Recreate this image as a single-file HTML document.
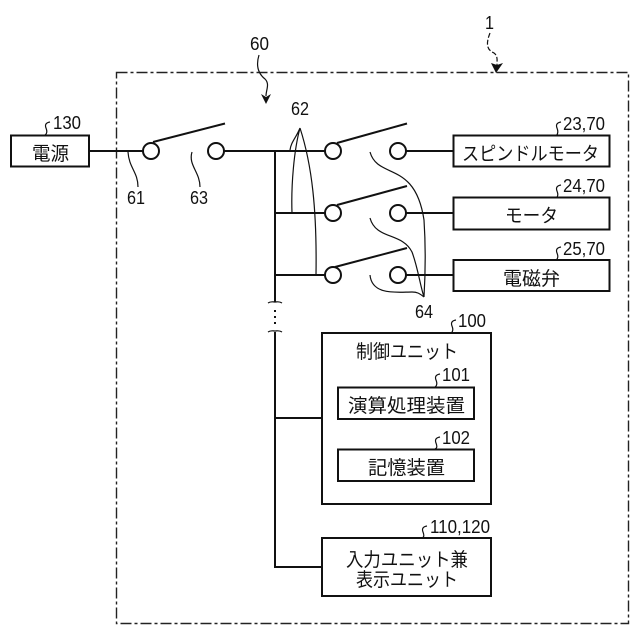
<!DOCTYPE html>
<html><head><meta charset="utf-8"><style>
html,body{margin:0;padding:0;background:#fff}
svg{display:block}
text{font-family:"Liberation Sans","Noto Sans CJK JP",sans-serif;fill:#111}
.n{font-size:18px}
.j{font-size:19px}
</style></head><body>
<svg width="640" height="640" viewBox="0 0 640 640" xmlns="http://www.w3.org/2000/svg">
<rect width="640" height="640" fill="#fff"/>
<rect x="116.5" y="72.5" width="512" height="551" fill="none" stroke="#222" stroke-width="1.4" stroke-dasharray="11 3 3 3"/>
<g fill="none" stroke="#111" stroke-width="2">
<rect x="11" y="135.500" width="78" height="31"/>
<rect x="453.500" y="135.500" width="156" height="31"/>
<rect x="453.500" y="197.500" width="156" height="32"/>
<rect x="453.500" y="260" width="156" height="31"/>
<rect x="322" y="333" width="169" height="171"/>
<rect x="338" y="387.500" width="136" height="31.500"/>
<rect x="338" y="449.500" width="136" height="31.500"/>
<rect x="322" y="538" width="169" height="58"/>
<path d="M89 151H143M224 151H325M275 151V302M275 332V567H322M275 418H322M275 213H325M275 275H325M406 151H453M406 213H453M406 275H453"/>
<circle cx="151" cy="151" r="8"/><circle cx="216" cy="151" r="8"/>
<circle cx="333" cy="151" r="8"/><circle cx="398" cy="151" r="8"/>
<circle cx="333" cy="213" r="8"/><circle cx="398" cy="213" r="8"/>
<circle cx="333" cy="275" r="8"/><circle cx="398" cy="275" r="8"/>
<path d="M153 142L225 123.500M337 143L407 123.500M337 205L407 186M335 267L407 248"/>
</g>
<g fill="none" stroke="#111" stroke-width="1.200">
<path d="M268 303c3 -2 5 -1 7 -1c2 0 4 -1 7 1M268 332c3 -2 5 -1 7 -1c2 0 4 -1 7 1"/>
<path d="M275 310v2M275 316v2M275 322v2" stroke-width="2"/>
<path d="M300 128C296 138 291 142 290 150M300 128C294 150 291 185 292 213M300 128C312 165 317 210 316 275"/>
<path d="M128 152C129 168 138 172 138 187M192 152C188 165 200 172 200 187"/>
<path d="M370 152C378 180 415 160 424 220C426 250 425 280 424 297M370 218C376 240 402 232 412 252C418 268 420 285 424 297M370 275C372 296 398 292 412 292C418 292 420 294 424 297"/>
<path d="M259 55C255 68 260 75 265 79C270 84 266 90 266 96"/>
<path d="M490 33C484 48 490 51 494 53C498 56 497 60 497 65" stroke-dasharray="5 2"/>
<path d="M50 122q-6 1 -4 6t-1 7M561 122q-6 1 -4 6t-1 8M561 185q-6 1 -4 6t-1 7M561 247q-6 1 -4 6t-1 7M456 320q-6 1 -4 6t-1 7M440 374q-6 1 -4 6t-1 7M440 437q-6 1 -4 6t-1 6M427 526q-6 1 -4 6t-1 6"/>
</g>
<path d="M261 94L266 97L271 94L266 104Z" fill="#111"/>
<path d="M491 63L497 65L503 63L496 73Z" fill="#111"/>
<g class="n">
<text x="53" y="129" textLength="28" lengthAdjust="spacingAndGlyphs">130</text>
<text x="250" y="50" textLength="19" lengthAdjust="spacingAndGlyphs">60</text>
<text x="485" y="29" textLength="9" lengthAdjust="spacingAndGlyphs">1</text>
<text x="291" y="115" textLength="18" lengthAdjust="spacingAndGlyphs">62</text>
<text x="127" y="204" textLength="18" lengthAdjust="spacingAndGlyphs">61</text>
<text x="190" y="204" textLength="18" lengthAdjust="spacingAndGlyphs">63</text>
<text x="415" y="318" textLength="18" lengthAdjust="spacingAndGlyphs">64</text>
<text x="563" y="130" textLength="42" lengthAdjust="spacingAndGlyphs">23,70</text>
<text x="563" y="192" textLength="42" lengthAdjust="spacingAndGlyphs">24,70</text>
<text x="563" y="255" textLength="42" lengthAdjust="spacingAndGlyphs">25,70</text>
<text x="458" y="327" textLength="28" lengthAdjust="spacingAndGlyphs">100</text>
<text x="442" y="381" textLength="28" lengthAdjust="spacingAndGlyphs">101</text>
<text x="442" y="444" textLength="28" lengthAdjust="spacingAndGlyphs">102</text>
<text x="430" y="533" textLength="60" lengthAdjust="spacingAndGlyphs">110,120</text>
</g>
<g class="j">
<text x="32" y="160" textLength="37" lengthAdjust="spacingAndGlyphs">電源</text>
<text x="462" y="160" textLength="137" lengthAdjust="spacingAndGlyphs">スピンドルモータ</text>
<text x="505" y="222" textLength="53" lengthAdjust="spacingAndGlyphs">モータ</text>
<text x="503" y="285" textLength="57" lengthAdjust="spacingAndGlyphs">電磁弁</text>
<text x="356" y="358" textLength="102" lengthAdjust="spacingAndGlyphs">制御ユニット</text>
<text x="348" y="412" textLength="117" lengthAdjust="spacingAndGlyphs">演算処理装置</text>
<text x="368" y="474" textLength="77" lengthAdjust="spacingAndGlyphs">記憶装置</text>
<text x="346" y="566" textLength="122" lengthAdjust="spacingAndGlyphs">入力ユニット兼</text>
<text x="356" y="586" textLength="102" lengthAdjust="spacingAndGlyphs">表示ユニット</text>
</g>
</svg>
</body></html>
